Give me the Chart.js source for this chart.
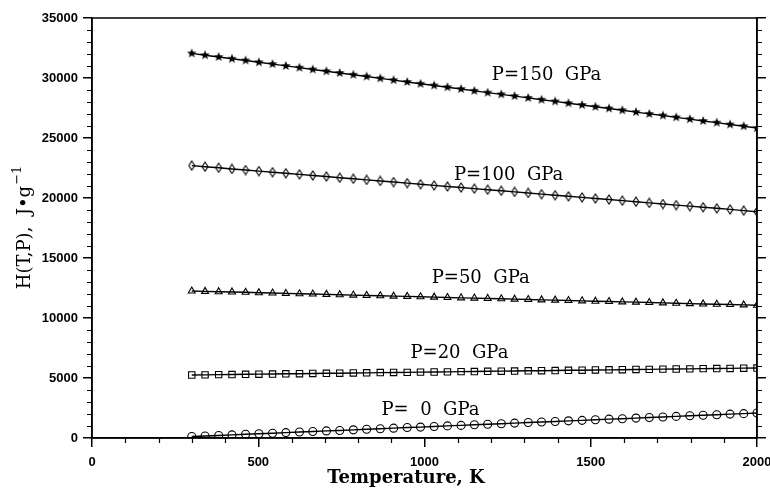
<!DOCTYPE html>
<html>
<head>
<meta charset="utf-8">
<script src="https://cdn.jsdelivr.net/npm/chart.js@4/dist/chart.umd.min.js"></script>
<style>
	html, body { margin: 0; padding: 0; background: #fff; }
	#wrap { width: 770px; height: 488px; }
</style>
</head>
<body>
<div id="wrap"><canvas id="chart" width="770" height="488"></canvas></div>
<script>
( function( ) {
	'use strict';

	// temperature grid, K
	var temps = [ 300, 340, 381, 421, 462, 502, 543, 583, 624, 664, 705, 745, 786, 826, 867, 907, 948, 988, 1029, 1069, 1110, 1150, 1190, 1231, 1271, 1312, 1352, 1393, 1433, 1474, 1514, 1555, 1595, 1636, 1676, 1717, 1757, 1798, 1838, 1879, 1919, 1960, 2000 ];

	// H(T,P), J/g, one list per pressure
	var h_p150 = [ 32050, 31900, 31750, 31600, 31460, 31310, 31160, 31010, 30860, 30710, 30560, 30420, 30270, 30120, 29970, 29820, 29670, 29520, 29380, 29230, 29080, 28930, 28780, 28640, 28490, 28340, 28190, 28050, 27900, 27750, 27600, 27460, 27310, 27160, 27010, 26870, 26720, 26570, 26420, 26280, 26130, 25980, 25830 ];
	var h_p100 = [ 22700, 22610, 22520, 22420, 22330, 22240, 22150, 22060, 21970, 21880, 21790, 21690, 21600, 21510, 21420, 21330, 21240, 21150, 21050, 20960, 20870, 20780, 20690, 20600, 20510, 20420, 20320, 20230, 20140, 20050, 19960, 19870, 19780, 19690, 19590, 19500, 19410, 19320, 19230, 19140, 19050, 18950, 18860 ];
	var h_p50 = [ 12250, 12220, 12190, 12170, 12140, 12110, 12080, 12050, 12020, 12000, 11970, 11940, 11910, 11880, 11850, 11820, 11800, 11770, 11740, 11710, 11680, 11660, 11630, 11600, 11570, 11540, 11510, 11490, 11460, 11430, 11400, 11370, 11340, 11320, 11290, 11260, 11230, 11200, 11170, 11150, 11120, 11090, 11060 ];
	var h_p20 = [ 5250, 5260, 5280, 5290, 5310, 5320, 5330, 5350, 5360, 5380, 5390, 5400, 5420, 5430, 5450, 5460, 5470, 5490, 5500, 5510, 5530, 5540, 5560, 5570, 5580, 5600, 5610, 5620, 5640, 5650, 5670, 5680, 5690, 5710, 5720, 5740, 5750, 5760, 5780, 5790, 5800, 5820, 5830 ];
	var h_p0 = [ 120, 170, 210, 260, 310, 360, 400, 450, 500, 540, 590, 630, 680, 730, 770, 820, 870, 910, 960, 1010, 1050, 1100, 1150, 1190, 1240, 1290, 1330, 1380, 1430, 1470, 1520, 1570, 1610, 1660, 1710, 1750, 1800, 1850, 1890, 1940, 1990, 2030, 2080 ];

	var curve_labels = [ 'P=150  GPa', 'P=100  GPa', 'P=50  GPa', 'P=20  GPa', 'P=  0  GPa' ];
	var x_ticks = [ 0, 500, 1000, 1500, 2000 ];

	// where the curve names sit, in data units
	var label_at = [
		{ x: 1367, y: 30250 },
		{ x: 1253, y: 21900 },
		{ x: 1169, y: 13330 },
		{ x: 1105, y: 7080 },
		{ x: 1018, y: 2330 }
	];

	function pairs( ys ) {
		return temps.map( function( t, i ) { return { x: t, y: ys[ i ] }; } );
	}

	function star_image( r ) {
		var c = document.createElement( 'canvas' );
		var s = Math.ceil( r * 2 + 2 );
		c.width = s; c.height = s;
		var g = c.getContext( '2d' );
		g.beginPath();
		for ( var i = 0; i < 10; i++ ) {
			var rr = ( i % 2 === 0 ) ? r : r * 0.42;
			var a = -Math.PI / 2 + i * Math.PI / 5;
			var px = s / 2 + rr * Math.cos( a );
			var py = s / 2 + rr * Math.sin( a );
			if ( i === 0 ) g.moveTo( px, py ); else g.lineTo( px, py );
		}
		g.closePath();
		g.fillStyle = '#000';
		g.fill();
		return c;
	}

	function diamond_image( w, h ) {
		var c = document.createElement( 'canvas' );
		c.width = w + 2; c.height = h + 2;
		var g = c.getContext( '2d' );
		var cx = c.width / 2, cy = c.height / 2;
		g.beginPath();
		g.moveTo( cx, cy - h / 2 );
		g.lineTo( cx + w / 2, cy );
		g.lineTo( cx, cy + h / 2 );
		g.lineTo( cx - w / 2, cy );
		g.closePath();
		g.lineWidth = 1.1;
		g.strokeStyle = '#000';
		g.stroke();
		return c;
	}

	function series( ys, style, radius ) {
		return {
			data: pairs( ys ),
			borderColor: '#000',
			borderWidth: 1.4,
			pointStyle: style,
			pointRadius: radius,
			pointBorderColor: '#000',
			pointBackgroundColor: 'rgba(0,0,0,0)',
			pointBorderWidth: 1.1,
			tension: 0
		};
	}

	var tick_font = { family: 'Liberation Sans', size: 13, weight: 'bold' };

	function plain( v ) { return String( v ); }

	function fix_size( prop, size ) {
		return function( s ) {
			s[ prop ] = size;
			s.paddingLeft = 0; s.paddingRight = 0;
			s.paddingTop = 0; s.paddingBottom = 0;
		};
	}

	// frame, minor ticks, curve names and axis titles
	var decor = {
		id: 'decor',
		afterDraw: function( chart ) {
			var ctx = chart.ctx;
			var a = chart.chartArea;
			var sx = chart.scales.x, sy = chart.scales.y;
			ctx.save();
			ctx.strokeStyle = '#000';
			ctx.lineWidth = 1.5;
			ctx.strokeRect( a.left, a.top, a.right - a.left, a.bottom - a.top );

			ctx.lineWidth = 1.2;
			ctx.beginPath();
			for ( var t = 0; t <= 2000; t += 100 ) {
				if ( t % 500 === 0 ) continue;
				var px = Math.round( sx.getPixelForValue( t ) ) + 0.5;
				ctx.moveTo( px, a.bottom ); ctx.lineTo( px, a.bottom + 5 );
			}
			for ( var v = 0; v <= 35000; v += 1000 ) {
				if ( v % 5000 === 0 ) continue;
				var py = Math.round( sy.getPixelForValue( v ) ) + 0.5;
				ctx.moveTo( a.left, py ); ctx.lineTo( a.left - 5, py );
				ctx.moveTo( a.right, py ); ctx.lineTo( a.right + 5, py );
			}
			ctx.stroke();

			ctx.fillStyle = '#000';
			ctx.font = '18px "DejaVu Serif"';
			ctx.textAlign = 'center';
			ctx.textBaseline = 'middle';
			curve_labels.forEach( function( txt, i ) {
				ctx.fillText( txt, sx.getPixelForValue( label_at[ i ].x ), sy.getPixelForValue( label_at[ i ].y ) );
			} );

			ctx.font = 'bold 18px "DejaVu Serif"';
			ctx.textBaseline = 'alphabetic';
			ctx.fillText( 'Temperature, K', 406, 483 );

			ctx.translate( 30, 228 );
			ctx.rotate( -Math.PI / 2 );
			ctx.textAlign = 'left';
			ctx.font = '18px "DejaVu Serif"';
			var main = 'H(T,P),  J\u2022g';
			var w = ctx.measureText( main ).width;
			ctx.font = '13px "DejaVu Serif"';
			var w2 = ctx.measureText( '\u22121' ).width;
			var x0 = -( w + w2 ) / 2;
			ctx.font = '18px "DejaVu Serif"';
			ctx.fillText( main, x0, 0 );
			ctx.font = '13px "DejaVu Serif"';
			ctx.fillText( '\u22121', x0 + w + 1, -9 );
			ctx.restore();
		}
	};

	new Chart( document.getElementById( 'chart' ), {
		type: 'line',
		data: {
			datasets: [
				series( h_p150, star_image( 5 ), 5 ),
				series( h_p100, diamond_image( 6, 9 ), 4 ),
				series( h_p50, 'triangle', 4 ),
				series( h_p20, 'rect', 4.5 ),
				series( h_p0, 'circle', 4 )
			]
		},
		options: {
			responsive: false,
			animation: false,
			plugins: { legend: { display: false }, tooltip: { enabled: false } },
			layout: { padding: 0 },
			scales: {
				x: {
					type: 'linear',
					position: 'bottom',
					min: 0, max: 2000,
					afterBuildTicks: function( s ) { s.ticks = x_ticks.map( function( v ) { return { value: v }; } ); },
					ticks: { font: tick_font, color: '#000', padding: 8, maxRotation: 0, callback: plain },
					grid: { drawOnChartArea: false, tickLength: 9, color: '#000', lineWidth: 1.5 },
					border: { color: '#000', width: 1.5 },
					afterFit: fix_size( 'height', 50 )
				},
				y: {
					type: 'linear',
					position: 'left',
					min: 0, max: 35000,
					ticks: { stepSize: 5000, font: tick_font, color: '#000', padding: 5, callback: plain },
					grid: { drawOnChartArea: false, tickLength: 9, color: '#000', lineWidth: 1.5 },
					border: { color: '#000', width: 1.5 },
					afterFit: fix_size( 'width', 92 )
				},
				y2: {
					type: 'linear',
					position: 'right',
					min: 0, max: 35000,
					ticks: { stepSize: 5000, display: false },
					grid: { drawOnChartArea: false, tickLength: 9, color: '#000', lineWidth: 1.5 },
					border: { color: '#000', width: 1.5 },
					afterFit: fix_size( 'width', 13 )
				},
				x2: {
					type: 'linear',
					position: 'top',
					min: 0, max: 2000,
					ticks: { display: false },
					grid: { display: false },
					border: { display: false },
					afterFit: fix_size( 'height', 18 )
				}
			}
		},
		plugins: [ decor ]
	} );
} )( );
</script>
</body>
</html>
